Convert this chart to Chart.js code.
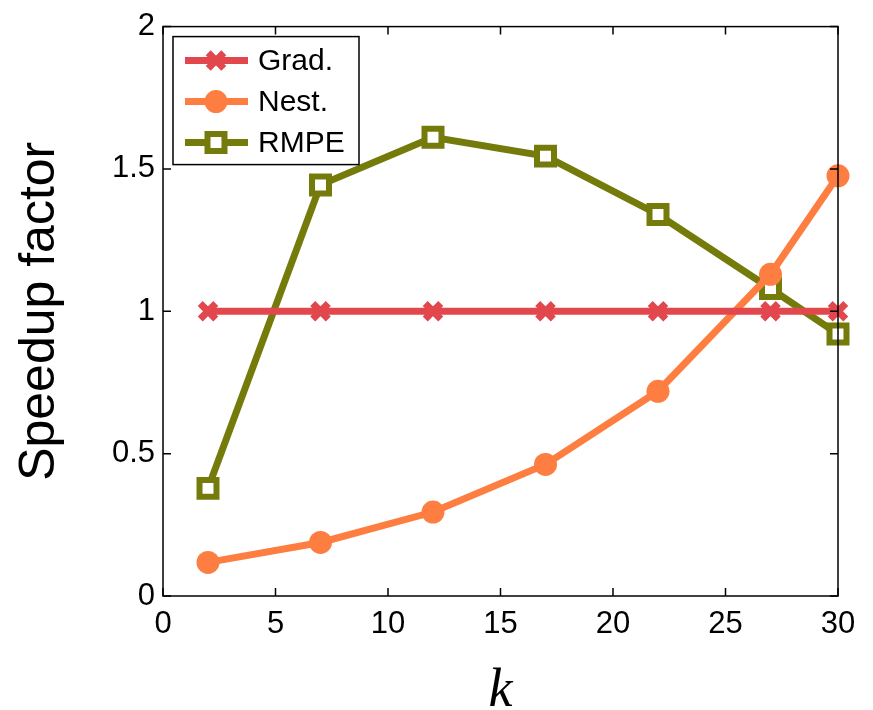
<!DOCTYPE html>
<html>
<head>
<meta charset="utf-8">
<script src="https://cdn.jsdelivr.net/npm/chart.js@4"></script>
<style>
  html, body { margin: 0; padding: 0; background: #fff; }
  canvas { display: block; }
</style>
</head>
<body>
<canvas id="chart" width="873" height="710"></canvas>
<script>
// values
const kValues = [2, 7, 12, 17, 22, 27, 30];
const gradSpeedup = [1, 1, 1, 1, 1, 1, 1];
const nestSpeedup = [0.118, 0.188, 0.295, 0.462, 0.719, 1.13, 1.476];
const rmpeSpeedup = [0.378, 1.444, 1.611, 1.545, 1.34, 1.08, 0.92];
const seriesNames = ['Grad.', 'Nest.', 'RMPE'];

const RED = '#e1474c';
const ORANGE = '#fd7e40';
const OLIVE = '#747b0a';

const toPoints = (ys) => kValues.map((x, i) => ({ x: x, y: ys[i] }));

// frame around the plot with inward ticks on all four sides
const framePlugin = {
  id: 'frame',
  afterDraw(chart) {
    const { ctx, chartArea: a, scales } = chart;
    const len = 8;
    ctx.save();
    ctx.strokeStyle = '#000';
    ctx.lineWidth = 1.5;
    ctx.strokeRect(a.left, a.top, a.right - a.left, a.bottom - a.top);
    ctx.beginPath();
    scales.x.ticks.forEach((t) => {
      const px = scales.x.getPixelForValue(t.value);
      ctx.moveTo(px, a.bottom); ctx.lineTo(px, a.bottom - len);
      ctx.moveTo(px, a.top); ctx.lineTo(px, a.top + len);
    });
    scales.y.ticks.forEach((t) => {
      const py = scales.y.getPixelForValue(t.value);
      ctx.moveTo(a.left, py); ctx.lineTo(a.left + len, py);
      ctx.moveTo(a.right, py); ctx.lineTo(a.right - len, py);
    });
    ctx.stroke();
    ctx.restore();
  },
};

// legend box inside the plot, line + marker like matlab
const legendPlugin = {
  id: 'boxLegend',
  afterDatasetsDraw(chart) {
    const { ctx, chartArea: a } = chart;
    const x0 = a.left + 10, y0 = a.top + 10, w = 186, h = 128;
    ctx.save();
    ctx.fillStyle = '#fff';
    ctx.fillRect(x0, y0, w, h);
    ctx.strokeStyle = '#000';
    ctx.lineWidth = 1.5;
    ctx.strokeRect(x0, y0, w, h);
    chart.data.datasets.forEach((ds, i) => {
      const y = y0 + 24 + i * 41;
      const cx = x0 + 43;
      ctx.strokeStyle = ds.borderColor;
      ctx.lineWidth = ds.borderWidth;
      ctx.beginPath();
      ctx.moveTo(x0 + 12, y);
      ctx.lineTo(x0 + 75, y);
      ctx.stroke();
      ctx.fillStyle = ds.pointBackgroundColor;
      ctx.strokeStyle = ds.pointBorderColor;
      ctx.lineWidth = ds.pointBorderWidth;
      ctx.beginPath();
      if (ds.pointStyle === 'circle') {
        ctx.arc(cx, y, ds.pointRadius, 0, Math.PI * 2);
        ctx.fill();
      } else if (ds.pointStyle === 'rect') {
        const s = ds.pointRadius * Math.SQRT1_2;
        ctx.rect(cx - s, y - s, 2 * s, 2 * s);
        ctx.fill();
        ctx.stroke();
      } else {
        const s = ds.pointRadius * Math.SQRT1_2;
        ctx.moveTo(cx - s, y - s); ctx.lineTo(cx + s, y + s);
        ctx.moveTo(cx + s, y - s); ctx.lineTo(cx - s, y + s);
        ctx.stroke();
      }
      ctx.fillStyle = '#000';
      ctx.font = '30px "Liberation Sans"';
      ctx.textBaseline = 'middle';
      ctx.fillText(seriesNames[i], x0 + 85, y + 1);
    });
    ctx.restore();
  },
};

new Chart(document.getElementById('chart'), {
  type: 'line',
  data: {
    datasets: [
      {
        label: seriesNames[0],
        data: toPoints(gradSpeedup),
        borderColor: RED,
        borderWidth: 7,
        pointStyle: 'crossRot',
        pointRadius: 11,
        pointBorderWidth: 7,
        pointBorderColor: RED,
        pointBackgroundColor: RED,
        clip: false,
      },
      {
        label: seriesNames[1],
        data: toPoints(nestSpeedup),
        borderColor: ORANGE,
        borderWidth: 7,
        pointStyle: 'circle',
        pointRadius: 11.5,
        pointBorderWidth: 0,
        pointBorderColor: ORANGE,
        pointBackgroundColor: ORANGE,
        clip: false,
      },
      {
        label: seriesNames[2],
        data: toPoints(rmpeSpeedup),
        borderColor: OLIVE,
        borderWidth: 7,
        pointStyle: 'rect',
        pointRadius: 12,
        pointBorderWidth: 6,
        pointBorderColor: OLIVE,
        pointBackgroundColor: '#fff',
        clip: false,
      },
    ],
  },
  options: {
    responsive: false,
    animation: false,
    layout: { padding: { top: 20, right: 35, left: 0, bottom: 0 } },
    plugins: { legend: { display: false }, tooltip: { enabled: false } },
    scales: {
      x: {
        type: 'linear',
        min: 0,
        max: 30,
        ticks: {
          stepSize: 5,
          color: '#000',
          padding: 10,
          font: { family: 'Liberation Sans', size: 31 },
        },
        grid: { display: false, drawTicks: false, tickLength: 0 },
        border: { display: false },
        title: {
          display: true,
          text: 'k',
          color: '#000',
          font: { family: 'Liberation Serif', size: 54, style: 'italic' },
          padding: { top: 0, bottom: -14 },
        },
        afterFit: (s) => { s.height = 114; },
      },
      y: {
        type: 'linear',
        min: 0,
        max: 2,
        ticks: {
          stepSize: 0.5,
          color: '#000',
          padding: 8,
          font: { family: 'Liberation Sans', size: 31 },
          callback: (v) => String(v),
        },
        grid: { display: false, drawTicks: false, tickLength: 0 },
        border: { display: false },
        title: {
          display: true,
          text: 'Speedup factor',
          color: '#000',
          font: { family: 'Liberation Sans', size: 50 },
          padding: { top: 10, bottom: 0 },
        },
        afterFit: (s) => { s.width = 163; },
      },
    },
  },
  plugins: [framePlugin, legendPlugin],
});
</script>
</body>
</html>
